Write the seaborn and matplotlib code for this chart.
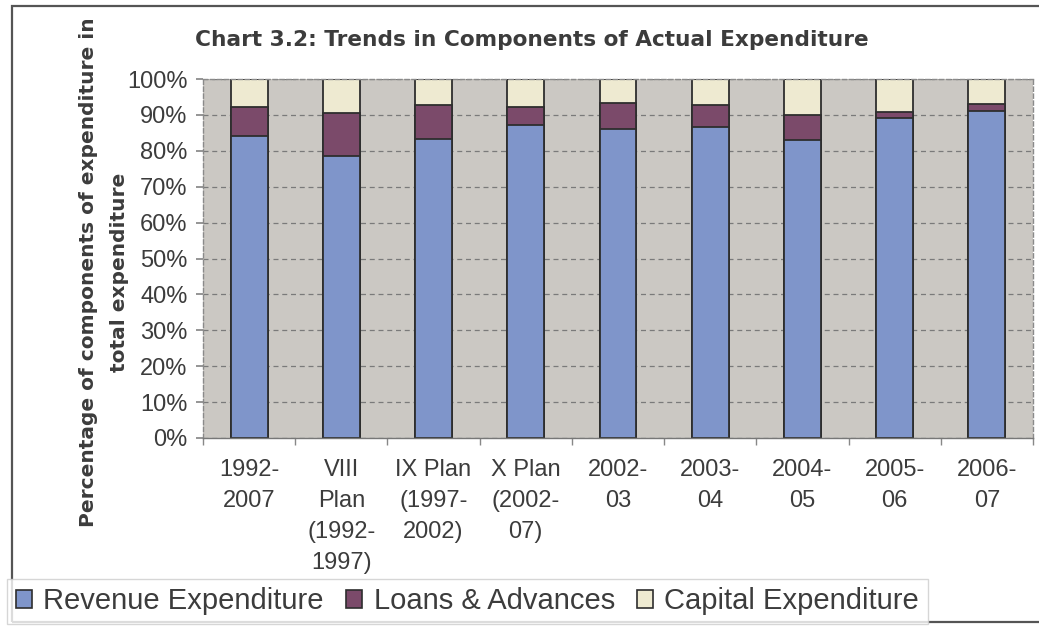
import matplotlib
matplotlib.use("Agg")
import matplotlib.pyplot as plt
import numpy as np
import pandas as pd
import seaborn as sns
from matplotlib.patches import Rectangle, Patch
from matplotlib.ticker import PercentFormatter, FixedLocator

categories = ["1992-\n2007", "VIII\nPlan\n(1992-\n1997)", "IX Plan\n(1997-\n2002)",
              "X Plan\n(2002-\n07)", "2002-\n03", "2003-\n04", "2004-\n05",
              "2005-\n06", "2006-\n07"]
revenue = [84.1, 78.6, 83.2, 87.1, 86.0, 86.6, 82.9, 89.0, 91.2]
loans = [8.0, 12.0, 9.5, 5.1, 7.4, 6.2, 7.2, 1.7, 1.7]
capital = [7.9, 9.4, 7.3, 7.8, 6.6, 7.2, 9.9, 9.3, 7.1]
series_names = ["Revenue Expenditure", "Loans & Advances", "Capital Expenditure"]
colors = ["#7f95ca", "#7b4a6a", "#eeead1"]

sns.set_theme(style="white")
plt.rcParams["font.family"] = ["Liberation Sans", "DejaVu Sans"]
text_color = "#3c3c3c"

df = pd.DataFrame({"category": categories, "revenue": revenue,
                   "loans": loans, "capital": capital})
# cumulative tops for stacked drawing (back to front)
df["top_loans"] = df["revenue"] + df["loans"]
df["top_capital"] = df["top_loans"] + df["capital"]

fig = plt.figure(figsize=(10.39, 6.26), dpi=100)
fig.patch.set_facecolor("white")
ax = fig.add_axes([203 / 1039, 1 - 438 / 626, 830 / 1039, 359 / 626])
ax.set_facecolor("#cbc8c3")

for col, color in zip(["top_capital", "top_loans", "revenue"], colors[::-1]):
    sns.barplot(data=df, x="category", y=col, color=color, width=0.40,
                edgecolor="#2e2e2e", linewidth=1.3, saturation=1, ax=ax,
                order=categories)

ax.set_ylim(0, 100)
ax.set_xlim(-0.5, len(categories) - 0.5)
ax.yaxis.set_major_locator(FixedLocator(np.arange(0, 101, 10)))
ax.yaxis.set_major_formatter(PercentFormatter(decimals=0))
ax.grid(axis="y", color="#7a7a7a", linestyle=(0, (4, 3)), linewidth=0.9)
ax.set_axisbelow(True)
for side, sp in ax.spines.items():
    sp.set_visible(True)
    sp.set_color("#8a8a8a")
    sp.set_linestyle((0, (3, 2)))
    sp.set_linewidth(1.0)
ax.spines["bottom"].set_linestyle("-")
ax.spines["bottom"].set_color("#777777")

ax.set_xlabel("")
ax.set_ylabel("")
ax.tick_params(axis="y", direction="out", length=5, color="#888888",
               labelsize=17, labelcolor=text_color, pad=6, left=True)
ax.set_xticks(range(len(categories)))
ax.set_xticklabels(categories, fontsize=17, color=text_color,
                   linespacing=1.53, va="top")
ax.tick_params(axis="x", which="major", length=0, pad=15)
ax.set_xticks(np.arange(-0.5, len(categories), 1), minor=True)
ax.tick_params(axis="x", which="minor", direction="out", length=5,
               color="#888888", bottom=True)
if ax.get_legend() is not None:
    ax.get_legend().remove()

fig.text(532 / 1039, 1 - 40 / 626,
         "Chart 3.2: Trends in Components of Actual Expenditure",
         ha="center", va="center", fontsize=15.6, fontweight="bold",
         color=text_color, family="DejaVu Sans")
fig.text(104 / 1039, 1 - 272 / 626,
         "Percentage of components of expenditure in\ntotal expenditure",
         rotation=90, ha="center", va="center", fontsize=14.5,
         fontweight="bold", color=text_color, linespacing=1.85,
         family="DejaVu Sans")

# outer chart border
fig.patches.append(Rectangle((12 / 1039, 4 / 626), 1.2, 1 - 10 / 626,
                             transform=fig.transFigure, fill=False,
                             edgecolor="#555555", linewidth=1.6))

handles = [Patch(facecolor=c, edgecolor="#2e2e2e", linewidth=1.2) for c in colors]
leg = fig.legend(handles, series_names, loc="lower left",
                 bbox_to_anchor=(7 / 1039, 2 / 626), ncol=3, fontsize=21,
                 frameon=True, fancybox=False, handlelength=0.55,
                 handleheight=0.55, handletextpad=0.4, columnspacing=0.75,
                 borderpad=0.3, borderaxespad=0, labelcolor=text_color)
leg.get_frame().set_edgecolor("#cccccc")
leg.get_frame().set_linewidth(1.0)
leg.get_frame().set_facecolor("white")

fig.savefig("out.png", dpi=100, facecolor="white")
